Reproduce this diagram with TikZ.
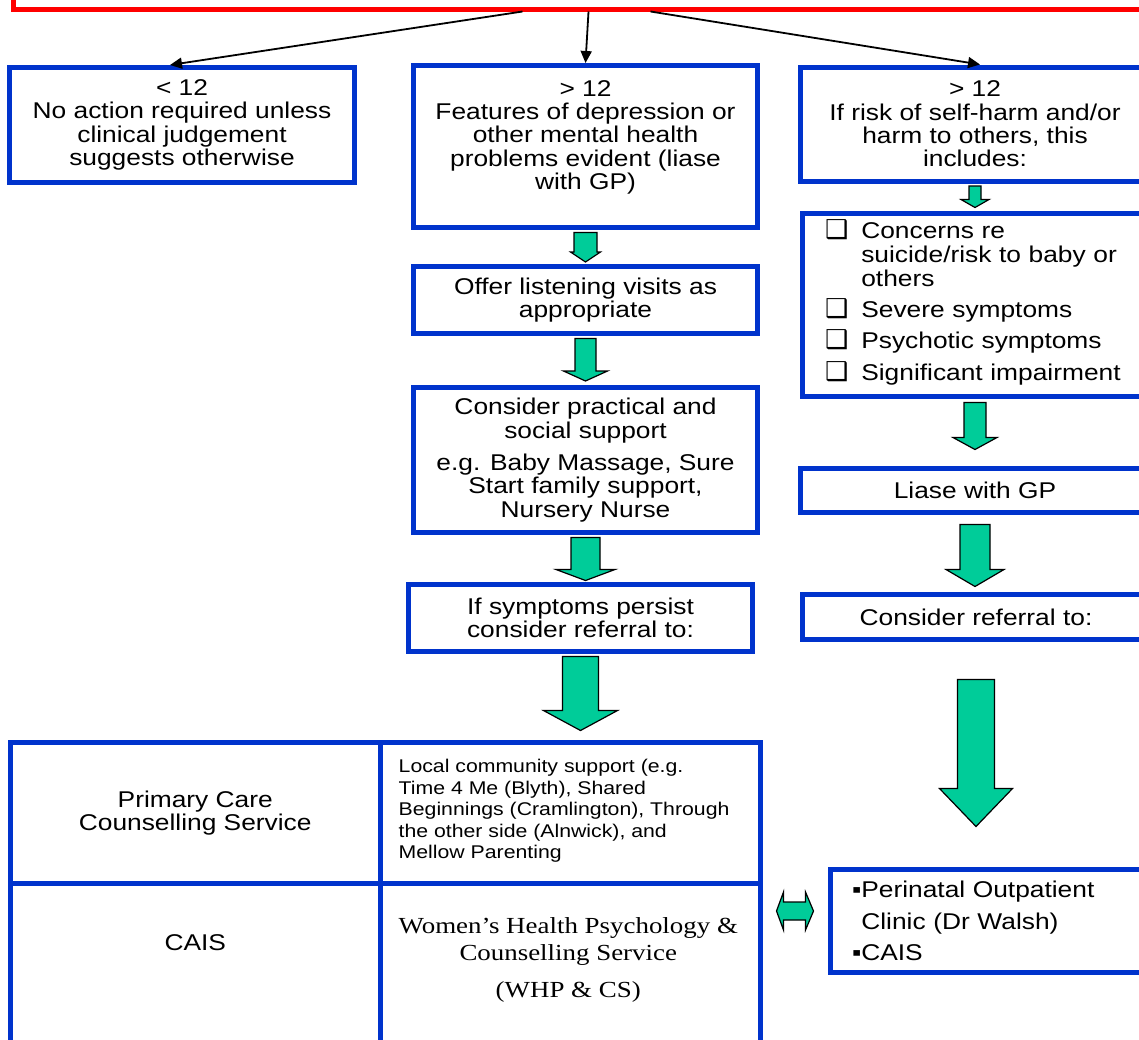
\documentclass[tikz,border=0pt]{standalone}
\usepackage{fontspec}
\setmainfont{Liberation Sans}[FakeStretch=1.155]
\newfontfamily\whpfont{Liberation Serif}[FakeStretch=1.17]
\newfontfamily\dingfont{DejaVu Sans}
\usetikzlibrary{arrows.meta, positioning, calc}

\definecolor{boxblue}{RGB}{0,51,204}
\definecolor{arrowgreen}{RGB}{0,204,153}
\definecolor{scrred}{RGB}{255,0,0}

\newcommand\bodysize{\fontsize{22.8}{23.3}\selectfont}
\newcommand\smallsize{\fontsize{18.4}{21.5}\selectfont}
\newcommand\chk{\smash{\dingfont\fontsize{26}{23.3}\selectfont ❑}}

% green block arrow pointing down: start, tip, shaft half width, head half width, head length
\newcommand\gdown[5]{%
  \draw[garrow] let \p1=(#1), \p2=(#2) in
    (\x2-#3,\y1) -- (\x2-#3,\y2+#5) -- (\x2-#4,\y2+#5) -- (\x2,\y2)
    -- (\x2+#4,\y2+#5) -- (\x2+#3,\y2+#5) -- (\x2+#3,\y1) -- cycle;}

\begin{document}
\begin{tikzpicture}[x=1pt, y=-1pt,
  font=\bodysize,
  box/.style={draw=boxblue, line width=5pt, fill=white, align=center, inner sep=0pt},
  listbox/.style={box, align=left, inner xsep=22.5pt},
  cell/.style={draw=boxblue, line width=5pt, align=center, inner sep=0pt},
  txt/.style={align=center, inner sep=0pt},
  garrow/.style={draw=black, line width=1.2pt, fill=arrowgreen},
  arr/.style={-{Triangle[length=12pt,width=11pt]}, line width=1.8pt},
]
\useasboundingbox (0,0) rectangle (1139,1039);
\fill[white] (0,0) rectangle (1139,1039);
\clip (0,0) rectangle (1139,1039);

% screening box, cut off at the top
\node[draw=scrred, line width=5pt, minimum width=1151, minimum height=80, anchor=south west] (scr) at (10.5,11.5) {};

% score outcomes
\node[box, minimum width=345, minimum height=115] (low) at (182,125)
  {< 12\\No action required unless\\clinical judgement\\suggests otherwise};
\node[box, minimum width=344, minimum height=162] (feat) at (585.5,146.5)
  {> 12\\Features of depression or\\other mental health\\problems evident (liase\\with GP)\\\mbox{}};
\node[box, minimum width=349, minimum height=114] (risk) at (975,124)
  {> 12\\If risk of self-harm and/or\\harm to others, this\\includes:};

% middle column
\node[box, minimum width=344, minimum height=67] (offer) at (585.5,300)
  {Offer listening visits as\\appropriate};
\node[box, minimum width=344, minimum height=145] (prac) at (585.5,460)
  {Consider practical and\\social support\\[9pt]e.g. Baby Massage, Sure\\Start family support,\\Nursery Nurse};
\node[box, minimum width=344, minimum height=67] (persist) at (580.5,618)
  {If symptoms persist\\consider referral to:};

% right column
\node[listbox, minimum width=347, minimum height=183, text width=302] (checks) at (976,305)
  {\begin{tabular}{@{}l@{\hspace{13pt}}l@{}}
   \chk & Concerns re\\
        & suicide/risk to baby or\\
        & others\\[8pt]
   \chk & Severe symptoms\\[8pt]
   \chk & Psychotic symptoms\\[8pt]
   \chk & Significant impairment
   \end{tabular}};
\node[box, minimum width=349, minimum height=44] (liase) at (975,490.5) {Liase with GP};
\node[box, minimum width=347, minimum height=45] (refer) at (976,617) {Consider referral to:};
\node[listbox, inner xsep=21.5pt, text width=276, minimum width=319, minimum height=103,
  font=\fontsize{22.8}{31.5}\selectfont] (perin) at (990,921)
  {▪Perinatal Outpatient\\\phantom{▪}Clinic (Dr Walsh)\\▪CAIS};

% services table
\node[cell, minimum width=369.5, minimum height=140.5] (pcc) at (195.25,812.75)
  {Primary Care\\Counselling Service};
\node[cell, minimum width=380.5, minimum height=140.5] (lcs) at (570.25,812.75) {};
\node[cell, minimum width=369.5, minimum height=177] (cais) at (195.25,971.5) {};
\node[cell, minimum width=380.5, minimum height=177] (whp) at (570.25,971.5) {};
\node[txt, align=left, anchor=west, font=\smallsize, right=21pt of lcs.west, yshift=2pt] (lcstxt)
  {Local community support (e.g.\\Time 4 Me (Blyth), Shared\\Beginnings (Cramlington), Through\\the other side (Alnwick), and\\Mellow Parenting};
\node[txt, below=54pt of cais.north] (caistxt) {CAIS};
\node[txt, below=37pt of whp.north, xshift=-2pt, font={\whpfont\fontsize{23}{27}\selectfont}] (whptxt)
  {Women’s Health Psychology \&\\Counselling Service\\[10pt](WHP \& CS)};

% connectors
\draw[arr] ([xshift=-66pt]scr.south) -- ([xshift=-12pt]low.north);
\draw[arr] (scr.south) -- (feat.north);
\draw[arr] ([xshift=62pt]scr.south) -- ([xshift=5pt]risk.north);

\gdown{$(feat.south)+(0,2.5)$}{$(offer.north)+(0,-2)$}{11.5pt}{15pt}{10pt}
\gdown{$(offer.south)+(0,2.5)$}{$(prac.north)+(0,-4)$}{10.5pt}{22pt}{10pt}
\gdown{$(prac.south)+(0,2.5)$}{$(prac.south |- persist.north)+(0,-1.5)$}{14.5pt}{29.5pt}{11pt}
\gdown{$(persist.south)+(0,2.5)$}{$(persist.south |- lcs.north)+(0,-9.5)$}{18pt}{37pt}{20pt}
\gdown{$(risk.south)+(0,2.5)$}{$(risk.south |- checks.north)+(0,-3.5)$}{6pt}{14pt}{8pt}
\gdown{$(checks.south)+(0,3.5)$}{$(liase.north)+(0,-16.5)$}{11pt}{22pt}{12pt}
\gdown{$(liase.south)+(0,9.5)$}{$(liase.south |- refer.north)+(0,-5.5)$}{15pt}{29pt}{17pt}
\gdown{$(refer.south)+(0,37.5)$}{$(refer.south |- perin.north)+(0,-40.5)$}{18.5pt}{36.5pt}{38pt}

% two-way link between the table and the perinatal box
\draw[garrow] let \p1=(whp.east), \p2=(perin.west) in
  (\x1+13.5pt,\y2+10pt) -- (\x1+20.5pt,\y2+29pt) -- (\x1+20.5pt,\y2+19pt)
  -- (\x2-22.5pt,\y2+19pt) -- (\x2-22.5pt,\y2+29pt) -- (\x2-14.5pt,\y2+10pt)
  -- (\x2-22.5pt,\y2-9pt) -- (\x2-22.5pt,\y2+1pt) -- (\x1+20.5pt,\y2+1pt)
  -- (\x1+20.5pt,\y2-9pt) -- cycle;
\end{tikzpicture}
\end{document}
